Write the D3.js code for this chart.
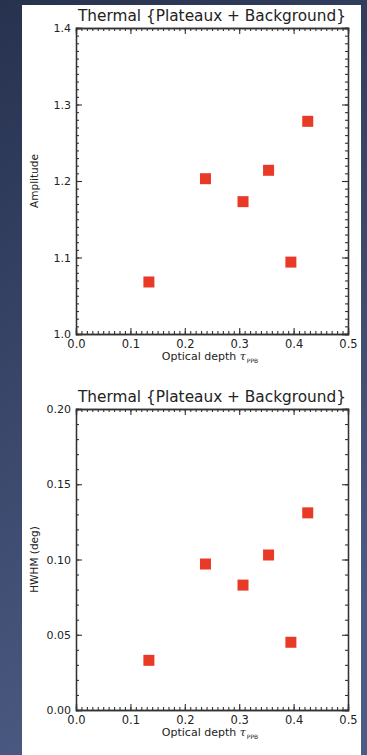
<!DOCTYPE html>
<html>
<head>
<meta charset="utf-8">
<script src="https://cdn.jsdelivr.net/npm/d3@7"></script>
<style>
  body { margin: 0; background: #2e3b5c; }
  svg { display: block; }
  text { font-family: "DejaVu Sans", "Liberation Sans", sans-serif; fill: #222; }
</style>
</head>
<body>
<svg width="367" height="755"></svg>
<script>
// values
const tauPPB    = [0.134, 0.238, 0.307, 0.354, 0.395, 0.426];
const amplitude = [1.068, 1.203, 1.173, 1.214, 1.094, 1.278];
const hwhm      = [0.033, 0.097, 0.083, 0.103, 0.045, 0.131];

const xTicks    = [0.0, 0.1, 0.2, 0.3, 0.4, 0.5];
const ampTicks  = [1.0, 1.1, 1.2, 1.3, 1.4];
const hwhmTicks = [0.00, 0.05, 0.10, 0.15, 0.20];

const titleText = "Thermal {Plateaux + Background}";

const W = 367, H = 755;
const svg = d3.select("svg");

// slide background
const defs = svg.append("defs");
const grad = defs.append("linearGradient")
    .attr("id", "bg").attr("x1", 0).attr("y1", 0).attr("x2", 0.3).attr("y2", 1);
grad.append("stop").attr("offset", "0%").attr("stop-color", "#27324f");
grad.append("stop").attr("offset", "100%").attr("stop-color", "#4c5b84");
svg.append("rect").attr("width", W).attr("height", H).attr("fill", "url(#bg)");

// white panel
svg.append("rect")
    .attr("x", 22).attr("y", 5)
    .attr("width", 339).attr("height", H - 5)
    .attr("fill", "#fff");

var drawPlot = (cfg) => {
    const x = d3.scaleLinear().domain([0, 0.5]).range([76, 348]);
    const y = d3.scaleLinear().domain(cfg.yDomain).range([cfg.bottom, cfg.top]);
    const g = svg.append("g");

    const xMinor = d3.range(0, 0.5001, 0.01);
    const yMinor = d3.range(cfg.yDomain[0], cfg.yDomain[1] + 1e-6, cfg.yMinorStep);

    // x axes, ticks inward
    g.append("g")
        .attr("transform", `translate(0,${cfg.bottom})`)
        .call(d3.axisBottom(x).tickValues(xMinor).tickSize(-3).tickFormat(""));
    g.append("g")
        .attr("transform", `translate(0,${cfg.bottom})`)
        .call(d3.axisBottom(x).tickValues(xTicks).tickSize(-6).tickPadding(6)
            .tickFormat(d3.format(".1f")))
        .call(a => a.selectAll("text").attr("font-size", 11.5));
    g.append("g")
        .attr("transform", `translate(0,${cfg.top})`)
        .call(d3.axisTop(x).tickValues(xMinor).tickSize(-3).tickFormat(""));
    g.append("g")
        .attr("transform", `translate(0,${cfg.top})`)
        .call(d3.axisTop(x).tickValues(xTicks).tickSize(-6).tickFormat(""));

    // y axes
    g.append("g")
        .attr("transform", "translate(76,0)")
        .call(d3.axisLeft(y).tickValues(yMinor).tickSize(-3).tickFormat(""));
    g.append("g")
        .attr("transform", "translate(76,0)")
        .call(d3.axisLeft(y).tickValues(cfg.yTicks).tickSize(-6).tickPadding(5)
            .tickFormat(d3.format(cfg.yFormat)))
        .call(a => a.selectAll("text").attr("font-size", 11));
    g.append("g")
        .attr("transform", "translate(348,0)")
        .call(d3.axisRight(y).tickValues(yMinor).tickSize(-3).tickFormat(""));
    g.append("g")
        .attr("transform", "translate(348,0)")
        .call(d3.axisRight(y).tickValues(cfg.yTicks).tickSize(-6).tickFormat(""));

    g.selectAll(".domain").attr("stroke", "#333").attr("stroke-width", 1.3);
    g.selectAll(".tick line").attr("stroke", "#333").attr("stroke-width", 1.1);

    // title
    g.append("text")
        .attr("x", 212).attr("y", cfg.top - 7)
        .attr("text-anchor", "middle")
        .attr("font-size", 15)
        .attr("textLength", 268)
        .attr("lengthAdjust", "spacingAndGlyphs")
        .text(titleText);

    // x label
    const xl = g.append("text")
        .attr("x", 210).attr("y", cfg.bottom + 26)
        .attr("text-anchor", "middle")
        .attr("font-size", 11);
    xl.append("tspan").text("Optical depth ");
    xl.append("tspan").attr("font-family", "DejaVu Serif").attr("font-style", "italic").text("τ");
    xl.append("tspan").attr("font-size", 6).attr("dy", 3).attr("dx", 1).text("PPB");

    // y label
    g.append("text")
        .attr("transform", `translate(38,${(cfg.top + cfg.bottom) / 2}) rotate(-90)`)
        .attr("text-anchor", "middle")
        .attr("font-size", 10.5)
        .text(cfg.yLabel);

    // points
    g.append("g")
        .selectAll("rect")
        .data(tauPPB.map((t, i) => ({t, v: cfg.values[i]})))
        .join("rect")
          .attr("x", d => x(d.t) - 5.5)
          .attr("y", d => y(d.v) - 5.5)
          .attr("width", 11)
          .attr("height", 11)
          .attr("fill", "#e83a27");
}

drawPlot({
    top: 28, bottom: 334,
    yDomain: [1.0, 1.4], yTicks: ampTicks, yMinorStep: 0.01, yFormat: ".1f",
    yLabel: "Amplitude", values: amplitude
});

drawPlot({
    top: 409, bottom: 710,
    yDomain: [0, 0.2], yTicks: hwhmTicks, yMinorStep: 0.01, yFormat: ".2f",
    yLabel: "HWHM (deg)", values: hwhm
});
</script>
</body>
</html>
